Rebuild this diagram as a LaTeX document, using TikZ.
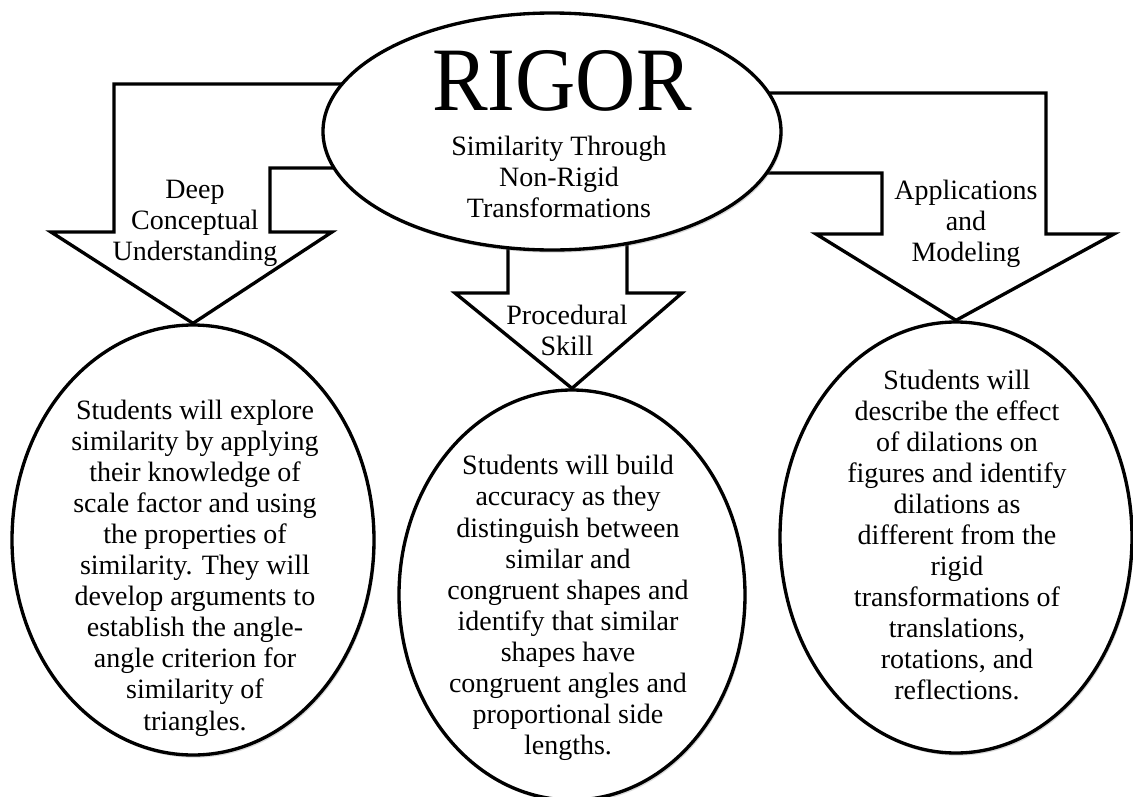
\documentclass[tikz,border=0pt]{standalone}
\usepackage{fontspec}
\setmainfont{Liberation Serif}
\usepackage{tikz}
\usetikzlibrary{shapes.geometric}
\usetikzlibrary{shadows}
\usetikzlibrary{backgrounds}

\newcommand{\bodysize}{\fontsize{21}{23.3}\selectfont}

\begin{document}
\begin{tikzpicture}[x=0.75pt, y=-0.75pt,
    bubble/.style={ellipse, draw, line width=2.5pt, fill=white, inner sep=0pt,
        drop shadow={shadow xshift=1.2pt, shadow yshift=-2pt, opacity=0.3}},
    blockarrow/.style={draw, line width=2.5pt, fill=white, line join=miter},
    words/.style={align=center, font=\bodysize, inner sep=0pt}]
    \path[use as bounding box] (0,0) rectangle (1133,797);
    %% 顶部椭圆
    \node[bubble, minimum width=343.5pt, minimum height=177.75pt] (rigor) at (552,131.5) {};
    \node[inner sep=0pt, font=\fontsize{68}{68}\selectfont] (title) at (562,81) {\scalebox{0.92}[1]{RIGOR}};
    \node[words] (subtitle) at (559,177) {Similarity Through\\Non-Rigid\\Transformations};
    %% 底部三个椭圆
    \node[bubble, minimum width=271.5pt, minimum height=322.5pt] (deep) at (193,540) {};
    \node[bubble, minimum width=259.5pt, minimum height=307.5pt] (proc) at (572,595) {};
    \node[bubble, minimum width=264pt, minimum height=323.25pt] (appl) at (956,537.5) {};
    %% 箭头放在背景层,被顶部椭圆盖住
    \begin{scope}[on background layer]
        \fill[white] (0,0) rectangle (1133,797);
        \draw[blockarrow] (380,84) -- (114,84) -- (114,232) -- (51,232) -- (deep.north)
            -- (332,232) -- (270,232) -- (270,168) -- (380,168) -- cycle;
        \draw[blockarrow] (508,200) -- (508,293) -- (455,293) -- (proc.north)
            -- (682,293) -- (627,293) -- (627,200) -- cycle;
        \draw[blockarrow] (720,93) -- (1046,93) -- (1046,234) -- (1114,234) -- (appl.north)
            -- (816,234) -- (882,234) -- (882,173) -- (720,173) -- cycle;
    \end{scope}
    %% 箭头上的文字
    \node[words] (deeplabel) at (195,223) {Deep\\Conceptual\\Understanding};
    \node[words] (proclabel) at (567,330) {Procedural\\Skill};
    \node[words] (appllabel) at (966,224) {Applications\\and\\Modeling};
    %% 椭圆里的文字
    \node[words] (deeptext) at (195,568) {Students will explore\\similarity by applying\\their knowledge of\\scale factor and using\\the properties of\\similarity. They will\\develop arguments to\\establish the angle-\\angle criterion for\\similarity of\\triangles.};
    \node[words] (proctext) at (568,608) {Students will build\\accuracy as they\\distinguish between\\similar and\\congruent shapes and\\identify that similar\\shapes have\\congruent angles and\\proportional side\\lengths.};
    \node[words] (appltext) at (957,535) {Students will\\describe the effect\\of dilations on\\figures and identify\\dilations as\\different from the\\rigid\\transformations of\\translations,\\rotations, and\\reflections.};
\end{tikzpicture}
\end{document}
